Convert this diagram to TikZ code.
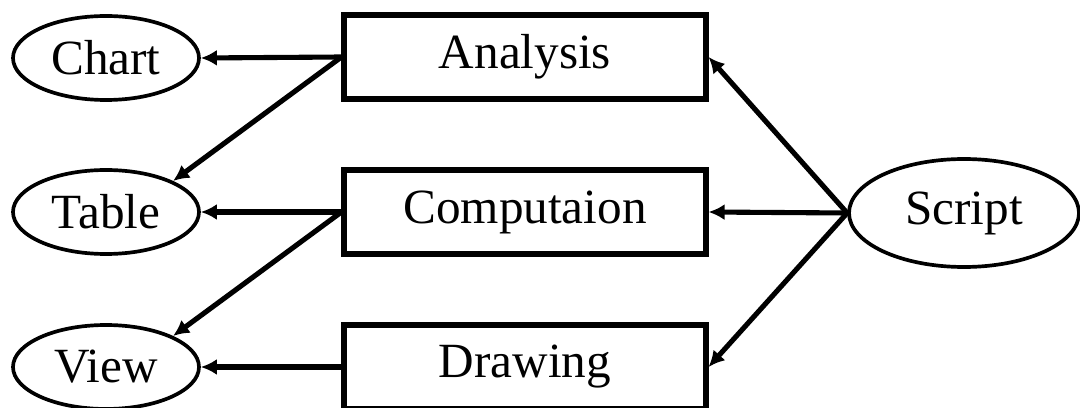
\documentclass[tikz,border=0pt]{standalone}
\usepackage{fontspec}
\setmainfont{Liberation Serif}
\usetikzlibrary{arrows.meta,shapes.geometric}

\begin{document}
\begin{tikzpicture}
	\tikzset{>={Latex[length=1.6mm,width=1.6mm]}}
	\tikzset{box/.style={draw,line width=1.45pt,minimum width=3.62cm,minimum height=0.84cm,font=\fontsize{14}{17}\selectfont},
	         oval/.style={draw,ellipse,line width=1.05pt,inner sep=0pt,font=\fontsize{14}{17}\selectfont},
	         link/.style={->,line width=1.45pt}}

  \useasboundingbox (0,0) rectangle (10.80,4.07);

  \node[oval,minimum width=1.86cm,minimum height=0.84cm] (chart) at (1.06,3.49) {Chart};
  \node[oval,minimum width=1.86cm,minimum height=0.84cm] (table) at (1.06,1.95) {Table};
  \node[oval,minimum width=1.86cm,minimum height=0.84cm] (view) at (1.06,0.40) {View};

  \node[box] (analysis) at (5.25,3.50) {Analysis};
  \node[box] (computation) at (5.25,1.95) {Computaion};
  \node[box] (drawing) at (5.25,0.40) {Drawing};

  \node[oval,minimum width=2.30cm,minimum height=1.08cm] (script) at (9.64,1.94) {Script};

  \draw[link] (analysis.west) -- (chart.east);
  \draw[link] (analysis.west) -- (table.north east);
  \draw[link] (computation.west) -- (table.east);
  \draw[link] (computation.west) -- (view.north east);
  \draw[link] (drawing.west) -- (view.east);

	\draw[link] (script.west) -- (analysis.east);
	\draw[link] (script.west) -- (computation.east);
	\draw[link] (script.west) -- (drawing.east);

\end{tikzpicture}
\end{document}
